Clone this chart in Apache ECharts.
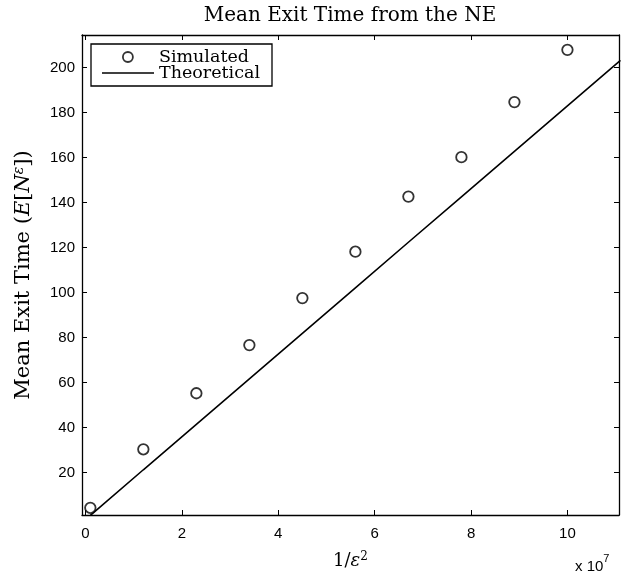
<!DOCTYPE html>
<html><head><meta charset="utf-8">
<script src="https://cdn.jsdelivr.net/npm/echarts@6/dist/echarts.min.js"></script>
<style>html,body{margin:0;padding:0;background:#fff}#c{width:622px;height:576px}</style>
</head><body><div id="c"></div>
<script>
// x in units of 1e7
const simX = [0.1, 1.2, 2.3, 3.4, 4.5, 5.6, 6.7, 7.8, 8.9, 10.0];
const simY = [4.3, 30.3, 55.2, 76.6, 97.5, 118.1, 142.6, 160.1, 184.6, 207.8];
const theoX = [0.1, 1.2, 2.3, 3.4, 4.5, 5.6, 6.7, 7.8, 8.9, 10.0, 11.1];
const theoY = [0.9, 21.2, 41.4, 61.6, 81.8, 102.0, 122.3, 142.5, 162.7, 182.9, 203.1];
const xTicks = [0, 2, 4, 6, 8, 10];
const yTicks = [20, 40, 60, 80, 100, 120, 140, 160, 180, 200];

const serif = 'DejaVu Serif';
const sans = 'Liberation Sans';
const chart = echarts.init(document.getElementById('c'), null, {renderer: 'canvas'});
const axisCommon = {
  type: 'value', scale: true,
  axisLine: {show: true, onZero: false, lineStyle: {color: '#000', width: 1.3}},
  splitLine: {show: false},
};
chart.setOption({
  animation: false,
  backgroundColor: '#fff',
  title: {
    text: 'Mean Exit Time from the NE', left: 345, top: 1, textAlign: 'center',
    textStyle: {fontFamily: serif, fontWeight: 'normal', fontSize: 20, color: '#000'}
  },
  grid: {left: 82, right: 3, top: 35, bottom: 61},
  legend: [
    {data: [{name: 'Simulated', icon: 'circle', itemStyle: {color: '#fff', borderColor: '#000', borderWidth: 1.8}}],
     left: 122, top: 48, itemWidth: 52, itemHeight: 10, padding: 0,
     orient: 'vertical', selectedMode: false,
     textStyle: {fontFamily: serif, fontSize: 17.5, color: '#000'}},
    {data: [{name: 'Theoretical', icon: 'rect', itemStyle: {color: '#000', borderWidth: 0}}],
     left: 102, top: 64, itemWidth: 52, itemHeight: 1.6, padding: 0,
     orient: 'vertical', selectedMode: false,
     textStyle: {fontFamily: serif, fontSize: 17.5, color: '#000'}}
  ],
  graphic: [
    {type: 'rect', shape: {x: 91, y: 44, width: 181, height: 42}, style: {fill: null, stroke: '#000', lineWidth: 1.3}, z: 0},
    {type: 'text', left: 575, top: 553, style: {
      text: '{a|x 10}{s|7}', rich: {
        a: {fontFamily: sans, fontSize: 15, color: '#000', verticalAlign: 'bottom'},
        s: {fontFamily: sans, fontSize: 11, color: '#000', verticalAlign: 'top', padding: [0, 0, 10, 0]}
      }}}
  ],
  xAxis: [
    Object.assign({}, axisCommon, {
      min: -0.073, max: 11.07, position: 'bottom',
      name: '1/{i|ε}{s|2}', nameLocation: 'middle', nameGap: 36,
      nameTextStyle: {fontFamily: serif, fontSize: 18, color: '#000',
        rich: {i: {fontFamily: serif, fontStyle: 'italic', fontSize: 18}, s: {fontFamily: serif, fontSize: 12, verticalAlign: 'bottom', padding: [0, 0, 9, 0]}}},
      axisTick: {show: true, inside: true, length: 5, customValues: xTicks, lineStyle: {color: '#000'}},
      axisLabel: {show: true, customValues: xTicks, fontFamily: sans, fontSize: 15, color: '#000', margin: 11}
    }),
    Object.assign({}, axisCommon, {
      min: -0.073, max: 11.07, position: 'top',
      axisTick: {show: true, inside: true, length: 5, customValues: xTicks, lineStyle: {color: '#000'}},
      axisLabel: {show: false}
    })
  ],
  yAxis: [
    Object.assign({}, axisCommon, {
      min: 1.1, max: 214.4, position: 'left',
      name: 'Mean Exit Time ({i|E}[{i|N}{s|ε}])', nameLocation: 'middle', nameGap: 46, nameRotate: 90,
      nameTextStyle: {fontFamily: serif, fontSize: 21, color: '#000',
        rich: {i: {fontFamily: serif, fontStyle: 'italic', fontSize: 21}, s: {fontFamily: serif, fontStyle: 'italic', fontSize: 14, padding: [0, 0, 10, 0]}}},
      axisTick: {show: true, inside: true, length: 5, customValues: yTicks, lineStyle: {color: '#000'}},
      axisLabel: {show: true, customValues: yTicks, fontFamily: sans, fontSize: 15, color: '#000', margin: 7}
    }),
    Object.assign({}, axisCommon, {
      min: 1.1, max: 214.4, position: 'right',
      axisTick: {show: true, inside: true, length: 5, customValues: yTicks, lineStyle: {color: '#000'}},
      axisLabel: {show: false}
    })
  ],
  series: [
    {name: 'Simulated', type: 'scatter', xAxisIndex: 0, yAxisIndex: 0,
     data: simX.map((x, i) => [x, simY[i]]),
     symbol: 'circle', symbolSize: 10.5,
     itemStyle: {color: '#fff', borderColor: '#000', borderWidth: 1.8}, z: 3},
    {name: 'Theoretical', type: 'line', xAxisIndex: 0, yAxisIndex: 0,
     data: theoX.map((x, i) => [x, theoY[i]]),
     showSymbol: false, symbol: 'none', clip: true,
     lineStyle: {color: '#000', width: 1.6}, itemStyle: {color: '#000'}, z: 2}
  ]
});
</script></body></html>
